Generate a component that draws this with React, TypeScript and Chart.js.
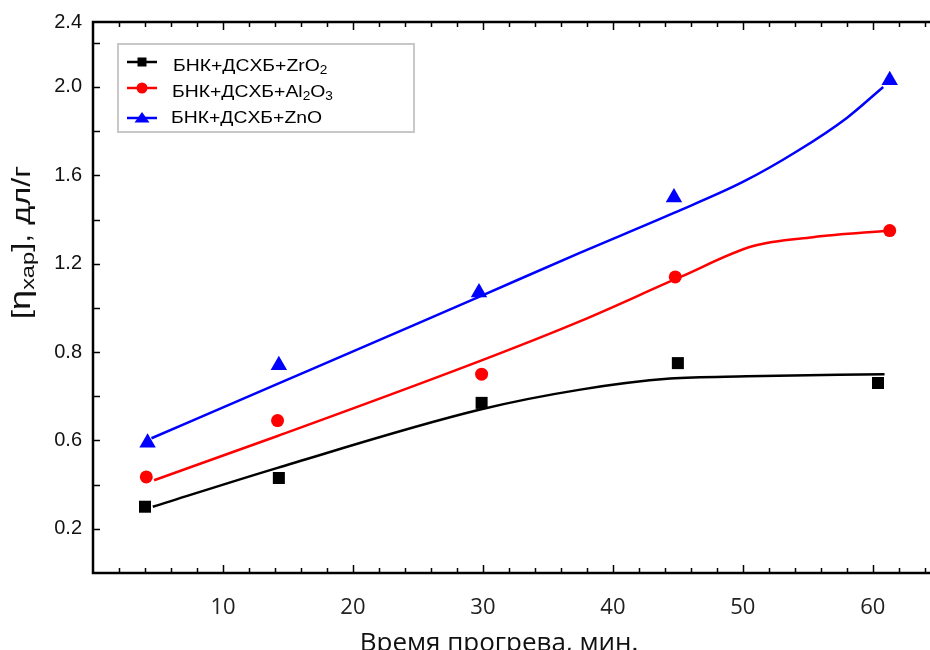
import React, { useEffect, useRef } from 'react';
import { Chart, registerables } from 'chart.js';

Chart.register(...registerables);

// ---------- data ----------
const seriesNames = ['БНК+ДСХБ+ZrO₂', 'БНК+ДСХБ+Al₂O₃', 'БНК+ДСХБ+ZnO'];
const seriesColors = ['#000000', '#ff0000', '#0000ff'];

// measured points (time, min / [η])
const zrX = [4.0, 14.3, 29.9, 45.0, 60.4];
const zrY = [0.10, 0.23, 0.57, 0.75, 0.66];
const alX = [4.1, 14.2, 29.9, 44.8, 61.3];
const alY = [0.235, 0.49, 0.70, 1.14, 1.35];
const znX = [4.2, 14.3, 29.7, 44.7, 61.3];
const znY = [0.39, 0.74, 1.07, 1.50, 2.03];

// fitted curves
const zrFitX = [4.6, 14.2, 29.8, 37.5, 44.4, 50.3, 60.9];
const zrFitY = [0.10, 0.276, 0.54, 0.63, 0.68, 0.69, 0.70];
const alFitX = [4.7, 14.2, 29.8, 37.5, 45.2, 50.8, 55.4, 61.3];
const alFitY = [0.22, 0.42, 0.76, 0.94, 1.14, 1.28, 1.32, 1.35];
const znFitX = [4.5, 14.2, 24.6, 29.7, 37.5, 44.7, 50.0, 54.2, 58.0, 60.8];
const znFitY = [0.41, 0.656, 0.92, 1.05, 1.25, 1.43, 1.57, 1.71, 1.86, 2.0];

// axes
const xTickValues = [0, 2, 4, 6, 8, 10, 12, 14, 16, 18, 20, 22, 24, 26, 28, 30, 32, 34, 36, 38, 40, 42, 44, 46, 48, 50, 52, 54, 56, 58, 60, 62, 64];
const xLabelValues = [10, 20, 30, 40, 50, 60];
const xTickLabels = ['10', '20', '30', '40', '50', '60'];
const yTickValues = [-0.2, 0, 0.2, 0.4, 0.6, 0.8, 1.0, 1.2, 1.4, 1.6, 1.8, 2.0, 2.2];
const yLabelValues = [0, 0.4, 0.8, 1.2, 1.6, 2.0, 2.294];
const yTickLabels = ['0.2', '0.6', '0.8', '1.2', '1.6', '2.0', '2.4'];
const X_MIN = 0, X_MAX = 64.4, Y_MIN = -0.2, Y_MAX = 2.294;

const xTitle = 'Время прогрева, мин.';
const yTitleParts = ['[', 'η', 'хар', '], дл/г'];

const SUBS: Record<string, string> = { '₀': '0', '₁': '1', '₂': '2', '₃': '3', '₄': '4', '₅': '5', '₆': '6', '₇': '7', '₈': '8', '₉': '9' };

function drawRich(ctx: CanvasRenderingContext2D, text: string, x: number, y: number, size: number, family: string) {
  let cx = x;
  for (const ch of text) {
    if (SUBS[ch]) {
      ctx.font = `${Math.round(size * 0.68)}px ${family}`;
      ctx.fillText(SUBS[ch], cx, y + 3);
      cx += ctx.measureText(SUBS[ch]).width;
    } else {
      ctx.font = `${size}px ${family}`;
      ctx.fillText(ch, cx, y);
      cx += ctx.measureText(ch).width;
    }
  }
  return cx - x;
}

function drawMarker(ctx: CanvasRenderingContext2D, kind: number, x: number, y: number) {
  ctx.beginPath();
  if (kind === 0) {
    ctx.rect(x - 4.5, y - 4.5, 9, 9);
  } else if (kind === 1) {
    ctx.arc(x, y, 5.5, 0, Math.PI * 2);
  } else {
    ctx.moveTo(x, y - 6);
    ctx.lineTo(x + 7.5, y + 4.5);
    ctx.lineTo(x - 7.5, y + 4.5);
    ctx.closePath();
  }
  ctx.fill();
}

const decorPlugin = {
  id: 'decor',
  afterDraw(chart: any) {
    const { ctx, chartArea: a, scales } = chart;
    const xs = scales.x, ys = scales.y;
    ctx.save();
    // frame lines
    ctx.strokeStyle = '#000';
    ctx.lineWidth = 2.5;
    ctx.beginPath();
    ctx.moveTo(a.right, a.top);
    ctx.lineTo(a.left, a.top);
    ctx.lineTo(a.left, a.bottom);
    ctx.lineTo(a.right, a.bottom);
    ctx.stroke();
    // inward ticks
    ctx.lineWidth = 1.5;
    ctx.beginPath();
    xs.ticks.forEach((t: any) => {
      if (t.value <= X_MIN) return;
      const px = Math.round(xs.getPixelForValue(t.value)) + 0.5;
      const L = xLabelValues.includes(t.value) ? 8 : 5;
      ctx.moveTo(px, a.bottom);
      ctx.lineTo(px, a.bottom - L);
      ctx.moveTo(px, a.top);
      ctx.lineTo(px, a.top + L);
    });
    yTickValues.forEach((v) => {
      if (v <= Y_MIN) return;
      const py = Math.round(ys.getPixelForValue(v)) + 0.5;
      ctx.moveTo(a.left, py);
      ctx.lineTo(a.left + 7, py);
    });
    ctx.stroke();

    // legend
    const bx = 118, by = 44, bw = 296, bh = 88;
    ctx.fillStyle = '#fff';
    ctx.fillRect(bx, by, bw, bh);
    ctx.strokeStyle = '#c8c8c8';
    ctx.lineWidth = 2;
    ctx.strokeRect(bx, by, bw, bh);
    const lineRows = [62, 88, 118];
    const textRows = [71, 97, 123];
    const textX = [173, 172, 171];
    seriesNames.forEach((name, i) => {
      const y = lineRows[i];
      ctx.strokeStyle = seriesColors[i];
      ctx.fillStyle = seriesColors[i];
      ctx.lineWidth = 2.5;
      ctx.beginPath();
      ctx.moveTo(127, y);
      ctx.lineTo(157, y);
      ctx.stroke();
      drawMarker(ctx, i, 142, y);
      ctx.save();
      ctx.fillStyle = '#000';
      ctx.textBaseline = 'alphabetic';
      ctx.textAlign = 'left';
      ctx.translate(textX[i], textRows[i]);
      ctx.scale(1.14, 1);
      drawRich(ctx, name, 0, 0, 17, '"Liberation Sans", Arial, sans-serif');
      ctx.restore();
    });

    // x title
    ctx.fillStyle = '#111';
    ctx.font = '26px "Open Sans", sans-serif';
    ctx.textAlign = 'center';
    ctx.textBaseline = 'alphabetic';
    ctx.fillText(xTitle, 499, 651);

    // y title (rotated, with subscript)
    const fam = '"Liberation Sans", Arial, sans-serif';
    const sizes = [26, 29, 19, 26];
    const offs = [0, 0, 4, 0];
    const stretch = 1.25;
    ctx.textAlign = 'left';
    let total = 0;
    yTitleParts.forEach((p, i) => {
      ctx.font = `${sizes[i]}px ${fam}`;
      total += ctx.measureText(p).width;
    });
    ctx.translate(30, 242.5);
    ctx.rotate(-Math.PI / 2);
    ctx.scale(stretch, 1);
    let cx = -total / 2;
    yTitleParts.forEach((p, i) => {
      ctx.font = `${sizes[i]}px ${fam}`;
      ctx.fillText(p, cx, offs[i]);
      cx += ctx.measureText(p).width;
    });
    ctx.restore();
  },
};

function pts(xs: number[], ys: number[]) {
  return xs.map((x, i) => ({ x, y: ys[i] }));
}

export default function App() {
  const ref = useRef<HTMLCanvasElement | null>(null);
  useEffect(() => {
    document.body.style.margin = '0';
    const canvas = ref.current!;
    const fits = [pts(zrFitX, zrFitY), pts(alFitX, alFitY), pts(znFitX, znFitY)];
    const marks = [pts(zrX, zrY), pts(alX, alY), pts(znX, znY)];
    const styles = ['rect', 'circle', 'triangle'];
    const radii = [8.5, 6.5, 9.5];
    const datasets: any[] = [];
    fits.forEach((d, i) => {
      datasets.push({
        label: seriesNames[i] + ' fit',
        data: d,
        showLine: true,
        borderColor: seriesColors[i],
        borderWidth: 2.5,
        pointRadius: 0,
        cubicInterpolationMode: 'monotone',
        fill: false,
      });
    });
    marks.forEach((d, i) => {
      datasets.push({
        label: seriesNames[i],
        data: d,
        showLine: false,
        backgroundColor: seriesColors[i],
        borderColor: seriesColors[i],
        borderWidth: 0,
        pointStyle: styles[i],
        pointRadius: radii[i],
        clip: false,
      });
    });
    const chart = new Chart(canvas, {
      type: 'scatter',
      data: { datasets },
      options: {
        animation: false,
        responsive: true,
        maintainAspectRatio: false,
        layout: { autoPadding: false, padding: { top: 22, right: 0, left: 0, bottom: 0 } },
        plugins: { legend: { display: false }, tooltip: { enabled: false } },
        scales: {
          x: {
            type: 'linear',
            min: X_MIN,
            max: X_MAX,
            afterBuildTicks: (s: any) => { s.ticks = xTickValues.map((v) => ({ value: v })); },
            afterFit: (s: any) => { s.height = 77; s.paddingLeft = 0; s.paddingRight = 0; },
            grid: { display: false, drawTicks: false },
            border: { display: false },
            ticks: {
              autoSkip: false,
              maxRotation: 0,
              padding: 22,
              color: '#222',
              font: { family: '"Open Sans", sans-serif', size: 22 },
              callback: (v: any) => {
                const idx = xLabelValues.indexOf(Number(v));
                return idx >= 0 ? xTickLabels[idx] : '';
              },
            },
          },
          y: {
            type: 'linear',
            min: Y_MIN,
            max: Y_MAX,
            afterBuildTicks: (s: any) => { s.ticks = yLabelValues.map((v) => ({ value: v })); },
            afterFit: (s: any) => { s.width = 93; s.paddingTop = 0; s.paddingBottom = 0; },
            grid: { display: false, drawTicks: false },
            border: { display: false },
            ticks: {
              autoSkip: false,
              padding: 11,
              color: '#111',
              font: { family: '"Liberation Sans", Arial, sans-serif', size: 20 },
              callback: (v: any) => {
                const idx = yLabelValues.findIndex((q) => Math.abs(q - Number(v)) < 1e-6);
                return idx >= 0 ? yTickLabels[idx] : '';
              },
            },
          },
        },
      },
      plugins: [decorPlugin],
    });
    return () => chart.destroy();
  }, []);
  return (
    <div style={{ width: 930, height: 650, position: 'relative' }}>
      <canvas ref={ref} />
    </div>
  );
}
